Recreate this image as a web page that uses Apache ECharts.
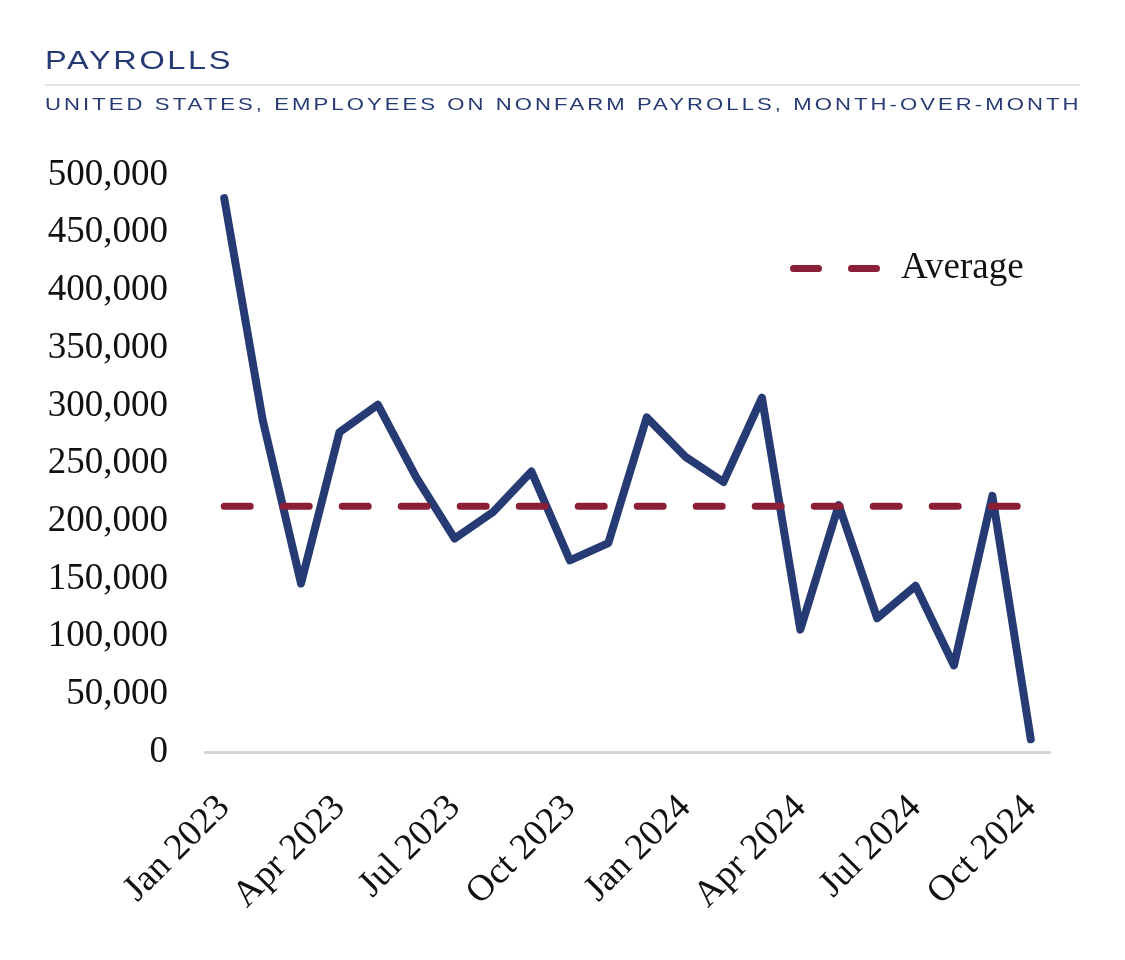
<!DOCTYPE html>
<html>
<head>
<meta charset="utf-8">
<script src="https://cdn.jsdelivr.net/npm/echarts@6/dist/echarts.min.js"></script>
<style>
  html, body { margin: 0; padding: 0; background: #fff; }
  #wrap { position: relative; width: 1125px; height: 960px; }
  #chart { position: absolute; left: 0; top: 0; width: 1125px; height: 960px; }
  .hd { position: absolute; left: 45px; white-space: nowrap; color: #263a74;
        font-family: "Liberation Sans", "DejaVu Sans", sans-serif; line-height: 1;
        transform-origin: left top; }
  #title { top: 47px; font-size: 26px; }
  #subtitle { top: 96px; font-size: 17px; }
  #rule { position: absolute; left: 45px; top: 84px; width: 1035px; height: 2px; background: #e2e2e2; }
</style>
</head>
<body>
<div id="wrap">
  <div id="chart"></div>
  <div id="title" class="hd">PAYROLLS</div>
  <div id="rule"></div>
  <div id="subtitle" class="hd">UNITED STATES, EMPLOYEES ON NONFARM PAYROLLS, MONTH-OVER-MONTH</div>
</div>
<script>
// ---- data ----
const months = ['Jan 2023','Feb 2023','Mar 2023','Apr 2023','May 2023','Jun 2023','Jul 2023','Aug 2023','Sep 2023','Oct 2023','Nov 2023','Dec 2023',
                'Jan 2024','Feb 2024','Mar 2024','Apr 2024','May 2024','Jun 2024','Jul 2024','Aug 2024','Sep 2024','Oct 2024'];
const payrolls = [480000, 288000, 146000, 277000, 301000, 238000, 185000, 208000, 243000, 166000, 181000, 290000,
                  256000, 234000, 307000, 106000, 214000, 116000, 144000, 75000, 222000, 11000];
const averageValue = 213000;
const yTicks = { min: 0, max: 500000, interval: 50000 };

// ---- header fitting ----
function fit(id, target, scale) {
  const el = document.getElementById(id);
  el.style.transform = 'scaleX(' + scale + ')';
  const n = el.textContent.length;
  const natural = el.scrollWidth;
  const ls = (target / scale - natural) / (n - 1);
  el.style.letterSpacing = ls + 'px';
}
fit('title', 185, 1.25);
fit('subtitle', 1033, 1.3);

const averageLine = months.map(() => averageValue);
const FONT = '"Liberation Serif", "DejaVu Serif", serif';
const dashIcon = 'path://M3.5,0 H28.5 A3.5,3.5 0 0 1 28.5,7 H3.5 A3.5,3.5 0 0 1 3.5,0 Z ' +
                 'M61.5,0 H86.5 A3.5,3.5 0 0 1 86.5,7 H61.5 A3.5,3.5 0 0 1 61.5,0 Z';

const chart = echarts.init(document.getElementById('chart'), null, { renderer: 'canvas' });
chart.setOption({
  animation: false,
  backgroundColor: '#fff',
  grid: { left: 205, right: 75, top: 175, bottom: 208, containLabel: false },
  legend: {
    data: [{ name: 'Average', icon: dashIcon }],
    left: 790, top: 250, padding: 0,
    itemWidth: 90, itemHeight: 7,
    itemStyle: { color: '#8b1f36' },
    textStyle: { fontFamily: FONT, fontSize: 37, color: '#111', padding: [0, 0, 0, 16] }
  },
  xAxis: {
    type: 'category',
    data: months,
    boundaryGap: true,
    axisLine: { show: true, lineStyle: { color: '#d6d6d6', width: 3 } },
    axisTick: { show: false },
    axisLabel: { interval: 2, rotate: 45, margin: 50, fontFamily: FONT, fontSize: 37, color: '#111' },
    splitLine: { show: false }
  },
  yAxis: {
    type: 'value',
    min: yTicks.min, max: yTicks.max, interval: yTicks.interval,
    axisLine: { show: false },
    axisTick: { show: false },
    splitLine: { show: false },
    axisLabel: {
      margin: 37, fontFamily: FONT, fontSize: 37, color: '#111',
      formatter: v => v.toLocaleString('en-US')
    }
  },
  series: [
    {
      name: 'Payrolls', type: 'line', data: payrolls, symbol: 'none',
      lineStyle: { color: '#263a74', width: 8, cap: 'round', join: 'round' },
      z: 3
    },
    {
      name: 'Average', type: 'line', data: averageLine, symbol: 'none',
      itemStyle: { color: '#8b1f36' },
      lineStyle: { color: '#8b1f36', width: 7, type: [26, 33], cap: 'round' },
      z: 4
    }
  ]
});
</script>
</body>
</html>
